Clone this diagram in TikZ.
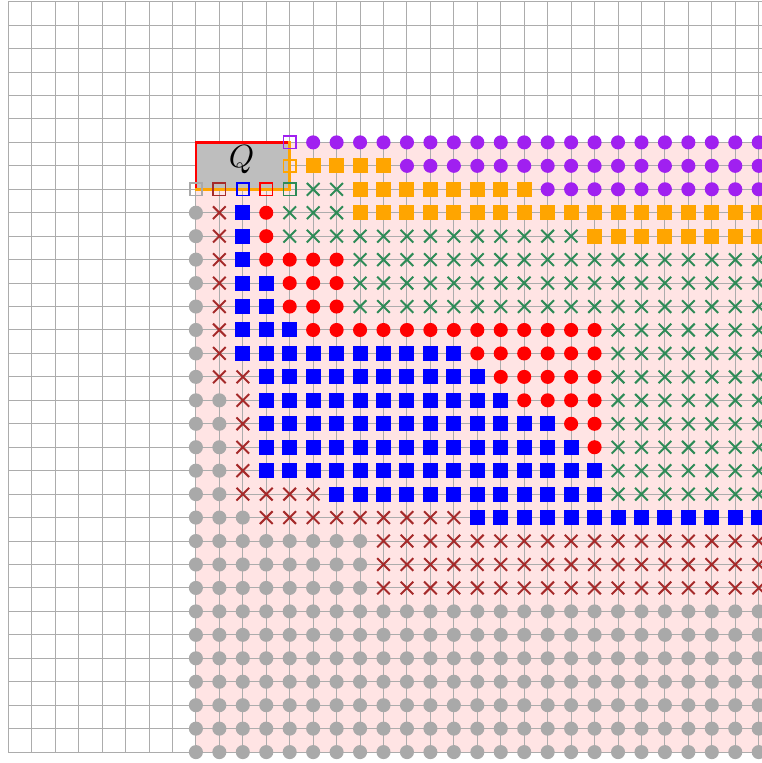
\documentclass[tikz,border=0pt]{standalone}
\definecolor{mpurple}{RGB}{160,32,240}
\definecolor{morange}{RGB}{255,165,0}
\definecolor{mblue}{RGB}{0,0,255}
\definecolor{mred}{RGB}{255,0,0}
\definecolor{mgreen}{RGB}{46,139,87}
\definecolor{mbrown}{RGB}{165,42,42}
\definecolor{mgray}{RGB}{169,169,169}
\definecolor{mpink}{RGB}{255,228,228}
\definecolor{qfill}{RGB}{190,190,190}
\definecolor{gridc}{RGB}{172,172,172}
\tikzset{
  gridline/.style={draw=gridc, line width=0.6pt, step=0.5cm},
  xmarkline/.style={line width=1.2pt},
  hollowsq/.style={line width=1pt},
  qedge/.style={line width=1.5pt, line cap=rect},
}
\newcommand\mkDots[3]{\foreach \i in {#2}{\fill[#1] (\i,-#3) circle[radius=0.3];}}
\newcommand\mkSqs[3]{\foreach \i in {#2}{\fill[#1] (\i-0.32,-#3-0.32) rectangle (\i+0.32,-#3+0.32);}}
\newcommand\mkXs[3]{\foreach \i in {#2}{\draw[#1, xmarkline] (\i-0.27,-#3-0.27) -- (\i+0.27,-#3+0.27) (\i-0.27,-#3+0.27) -- (\i+0.27,-#3-0.27);}}
\newcommand\mkHsq[3]{\draw[#1, hollowsq] (#2-0.26,-#3-0.26) rectangle (#2+0.26,-#3+0.26);}
\begin{document}
\begin{tikzpicture}[x=0.5cm,y=0.5cm]
\useasboundingbox (-0.354,-32.465) rectangle (32.14,0.072);
\clip (-0.354,-32.465) rectangle (32.14,0.072);
% pink region
\fill[mpink] (8,-6) rectangle (33,-32);
% grid
\draw[gridline] (0,-32) grid (33,0);
% Q box
\fill[qfill] (8,-6) rectangle (12,-8);
% row 6
\mkDots{mpurple}{13,...,32}{6}
% row 7
\mkSqs{morange}{13,...,16}{7}
\mkDots{mpurple}{17,...,32}{7}
% row 8
\mkXs{mgreen}{13,14}{8}
\mkSqs{morange}{15,...,22}{8}
\mkDots{mpurple}{23,...,32}{8}
% row 9
\mkDots{mgray}{8}{9} \mkXs{mbrown}{9}{9} \mkSqs{mblue}{10}{9} \mkDots{mred}{11}{9}
\mkXs{mgreen}{12,...,14}{9} \mkSqs{morange}{15,...,32}{9}
% row 10
\mkDots{mgray}{8}{10} \mkXs{mbrown}{9}{10} \mkSqs{mblue}{10}{10} \mkDots{mred}{11}{10}
\mkXs{mgreen}{12,...,24}{10} \mkSqs{morange}{25,...,32}{10}
% row 11
\mkDots{mgray}{8}{11} \mkXs{mbrown}{9}{11} \mkSqs{mblue}{10}{11} \mkDots{mred}{11,...,14}{11}
\mkXs{mgreen}{15,...,32}{11}
% rows 12-13
\foreach \j in {12,13}{
  \mkDots{mgray}{8}{\j} \mkXs{mbrown}{9}{\j} \mkSqs{mblue}{10,11}{\j} \mkDots{mred}{12,...,14}{\j}
  \mkXs{mgreen}{15,...,32}{\j}
}
% row 14
\mkDots{mgray}{8}{14} \mkXs{mbrown}{9}{14} \mkSqs{mblue}{10,...,12}{14} \mkDots{mred}{13,...,25}{14}
\mkXs{mgreen}{26,...,32}{14}
% row 15
\mkDots{mgray}{8}{15} \mkXs{mbrown}{9}{15} \mkSqs{mblue}{10,...,19}{15} \mkDots{mred}{20,...,25}{15}
\mkXs{mgreen}{26,...,32}{15}
% row 16
\mkDots{mgray}{8}{16} \mkXs{mbrown}{9,10}{16} \mkSqs{mblue}{11,...,20}{16} \mkDots{mred}{21,...,25}{16}
\mkXs{mgreen}{26,...,32}{16}
% row 17
\mkDots{mgray}{8,9}{17} \mkXs{mbrown}{10}{17} \mkSqs{mblue}{11,...,21}{17} \mkDots{mred}{22,...,25}{17}
\mkXs{mgreen}{26,...,32}{17}
% row 18
\mkDots{mgray}{8,9}{18} \mkXs{mbrown}{10}{18} \mkSqs{mblue}{11,...,23}{18} \mkDots{mred}{24,25}{18}
\mkXs{mgreen}{26,...,32}{18}
% row 19
\mkDots{mgray}{8,9}{19} \mkXs{mbrown}{10}{19} \mkSqs{mblue}{11,...,24}{19} \mkDots{mred}{25}{19}
\mkXs{mgreen}{26,...,32}{19}
% row 20
\mkDots{mgray}{8,9}{20} \mkXs{mbrown}{10}{20} \mkSqs{mblue}{11,...,25}{20}
\mkXs{mgreen}{26,...,32}{20}
% row 21
\mkDots{mgray}{8,9}{21} \mkXs{mbrown}{10,...,13}{21} \mkSqs{mblue}{14,...,25}{21}
\mkXs{mgreen}{26,...,32}{21}
% row 22
\mkDots{mgray}{8,...,10}{22} \mkXs{mbrown}{11,...,19}{22} \mkSqs{mblue}{20,...,32}{22}
% rows 23-25
\foreach \j in {23,24,25}{
  \mkDots{mgray}{8,...,15}{\j} \mkXs{mbrown}{16,...,32}{\j}
}
% rows 26-32
\foreach \j in {26,...,32}{
  \mkDots{mgray}{8,...,32}{\j}
}
% Q box edges
\draw[mred, qedge] (12,-6) -- (8,-6) -- (8,-8);
\draw[morange, qedge] (8,-8) -- (12,-8) -- (12,-6);
% hollow squares
\mkHsq{mpurple}{12}{6}
\mkHsq{morange}{12}{7}
\mkHsq{mgray}{8}{8}
\mkHsq{mbrown}{9}{8}
\mkHsq{mblue}{10}{8}
\mkHsq{mred}{11}{8}
\mkHsq{mgreen}{12}{8}
% label
\node[scale=1.95, anchor=base, inner sep=0pt] (qlabel) at (9.95,-7.08) {$Q$};
\end{tikzpicture}
\end{document}
